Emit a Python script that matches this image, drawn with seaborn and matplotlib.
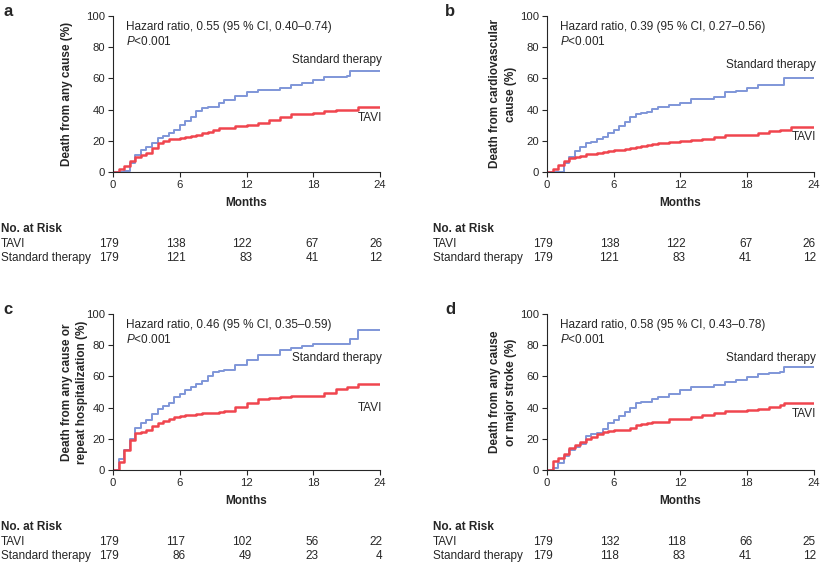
#!/usr/bin/env python3
"""Kaplan-Meier style curves, TAVI vs standard therapy, four endpoints"""

import matplotlib
matplotlib.use('Agg')
import matplotlib.pyplot as plt
import matplotlib.transforms as mtransforms
import pandas as pd
import seaborn as sns

# --------------------------------------------------
# data (cumulative event rate, %)
months = [0, 0.5, 1, 1.5, 2, 2.5, 3, 3.5, 4, 4.5, 5, 5.5, 6, 6.5, 7, 7.5,
          8, 8.5, 9, 9.5, 10, 11, 12, 13, 14, 15, 16, 17, 18, 19, 20, 21,
          21.3, 22, 23, 24]

a_std = [0, 0, 1, 6, 11, 14, 16, 19, 22, 23, 25, 27, 30, 33, 35.5, 39,
         41, 41.5, 42, 44, 46, 49, 51, 52.5, 52.5, 54, 56, 57, 59, 61, 61,
         61.5, 65, 65, 65, 65]
a_tavi = [0, 2, 4, 7, 10, 11, 12.5, 15.5, 18.5, 20, 21, 21.5, 22, 22.5, 23,
          24, 25, 26, 27, 28, 28.5, 29.5, 30, 31.7, 33.4, 35.5, 37, 37, 38,
          39, 40, 40, 40, 42, 42, 42]

b_std = [0, 0, 0.5, 5.7, 10, 13.5, 16.4, 18.5, 19.6, 21, 22.8, 25, 27, 29.5,
         32, 35, 37, 38, 38.7, 40.5, 41.5, 43, 44.5, 47, 47, 48, 51, 52, 54,
         56, 56, 56, 60, 60, 60, 60]
b_tavi = [0, 2, 4.5, 7, 9, 9.5, 10.4, 11.5, 12, 12.5, 13, 13.5, 14, 14.3,
          14.7, 15.5, 16.4, 17, 17.5, 18, 18.5, 19.6, 20, 20.6, 21.5, 22.8,
          24, 24, 24, 25, 26.4, 27, 27, 29, 29, 29]

c_std = [0, 7, 12.8, 20, 26.7, 30, 32, 36, 39, 41, 42.7, 47, 49, 51, 53.4,
         55, 57, 60, 63, 63.5, 64, 67, 70.5, 73.7, 74, 77, 78, 79.5, 80.8,
         80.8, 80.8, 81, 84, 89.7, 89.7, 89.7]
c_tavi = [0, 5, 13, 19, 23.5, 24.5, 25.6, 28, 30, 31.5, 33, 34, 34.6, 35,
          35.3, 36, 36.3, 36.3, 36.3, 37, 38, 40.6, 42.7, 45.3, 46, 47, 47.5,
          47.5, 47.5, 49.6, 52, 53.4, 53.4, 55, 55, 55]

d_std = [0, 1.5, 4.7, 9, 12.8, 15, 16.7, 22, 23, 24, 26, 30, 32, 34.5, 37.4,
         40, 42.7, 43.5, 43.8, 45.5, 47, 48.7, 51.3, 53, 53, 54.5, 56.6,
         57.7, 59.4, 61.5, 62, 63, 65.8, 65.8, 65.8, 65.8]
d_tavi = [0, 5.5, 7.5, 10, 13.9, 16, 18, 20, 21.4, 23, 24.6, 25.2, 25.6,
          25.6, 25.6, 27, 28.8, 29.5, 30, 30.5, 31, 32.5, 33, 34, 35.3, 36.3,
          38, 38, 38.5, 39.3, 40.6, 41.7, 43, 43, 43, 43]

risk_months = [0, 6, 12, 18, 24]
risk_tavi = {'a': [179, 138, 122, 67, 26], 'b': [179, 138, 122, 67, 26],
             'c': [179, 117, 102, 56, 22], 'd': [179, 132, 118, 66, 25]}
risk_std = {'a': [179, 121, 83, 41, 12], 'b': [179, 121, 83, 41, 12],
            'c': [179, 86, 49, 23, 4], 'd': [179, 118, 83, 41, 12]}

ylabels = {'a': 'Death from any cause (%)',
           'b': 'Death from cardiovascular\ncause (%)',
           'c': 'Death from any cause or\nrepeat hospitalization (%)',
           'd': 'Death from any cause\nor major stroke (%)'}
hazard = {'a': 'Hazard ratio, 0.55 (95 % CI, 0.40\u20130.74)',
          'b': 'Hazard ratio, 0.39 (95 % CI, 0.27\u20130.56)',
          'c': 'Hazard ratio, 0.46 (95 % CI, 0.35\u20130.59)',
          'd': 'Hazard ratio, 0.58 (95 % CI, 0.43\u20130.78)'}
curves = {'a': (a_std, a_tavi), 'b': (b_std, b_tavi),
          'c': (c_std, c_tavi), 'd': (d_std, d_tavi)}

# label heights (%) for the curve names
std_label_y = {'a': 71.7, 'b': 68.5, 'c': 72, 'd': 72}
tavi_label_y = {'a': 34.7, 'b': 22.5, 'c': 40, 'd': 35.9}

BLUE = '#7f96d8'
RED = '#f0454e'

# --------------------------------------------------
sns.set_theme(style='ticks')
plt.rcParams['font.family'] = ['Liberation Sans', 'DejaVu Sans']
plt.rcParams['mathtext.fontset'] = 'custom'
plt.rcParams['mathtext.rm'] = 'Liberation Sans'
plt.rcParams['mathtext.it'] = 'Liberation Sans:italic'

W, H = 823, 563
fig = plt.figure(figsize=(W / 100, H / 100), dpi=100)

# pixel layout: (axis left, axis right, axis top, axis bottom, text left)
layout = {'a': (113, 380, 15.7, 172.3, 1),
          'b': (547, 813.5, 15.7, 172.3, 433),
          'c': (113, 380, 314, 470, 1),
          'd': (547, 813.5, 314, 470, 433)}
label_x = {'a': -0.15, 'b': -0.113, 'c': -0.092, 'd': -0.113}

FS = 8.5
TICK_FS = 8.1

for key, (x0, x1, y0, y1, tx) in layout.items():
    ax = fig.add_axes([x0 / W, 1 - y1 / H, (x1 - x0) / W, (y1 - y0) / H])
    std, tavi = curves[key]
    df = pd.DataFrame({'months': months, 'std': std, 'tavi': tavi})

    sns.lineplot(data=df, x='months', y='std', color=BLUE, lw=1.4,
                 drawstyle='steps-post', ax=ax)
    sns.lineplot(data=df, x='months', y='tavi', color=RED, lw=1.8,
                 drawstyle='steps-post', ax=ax)

    ax.set_xlim(0, 24)
    ax.set_ylim(0, 100)
    ax.set_xticks(risk_months)
    ax.set_yticks(range(0, 101, 20))
    ax.tick_params(labelsize=TICK_FS, length=3.5, width=0.8, pad=2)
    for s in ('left', 'bottom'):
        ax.spines[s].set_linewidth(0.8)
    sns.despine(ax=ax)

    ax.set_xlabel('Months', fontsize=FS, fontweight='bold', labelpad=5)
    ax.set_ylabel(ylabels[key], fontsize=FS, fontweight='bold',
                  linespacing=1.4)
    ax.yaxis.set_label_coords(label_x[key], 0.5)

    ax.text(1.2, 93, hazard[key], fontsize=FS, va='center')
    ax.text(1.2, 83.5, '$\\it{P}$<0.001', fontsize=FS, va='center')
    ax.text(24.2, std_label_y[key], 'Standard therapy', fontsize=FS,
            ha='right', va='center')
    ax.text(24.2, tavi_label_y[key], 'TAVI', fontsize=FS,
            ha='right', va='center')

    # panel letter
    fig.text((tx + 2 + (10 if key in 'bd' else 0)) / W, 1 - (y0 - 4) / H,
             key, fontsize=12, fontweight='bold', ha='left', va='center')

    # number-at-risk table
    base = y1 + 57
    trans = mtransforms.blended_transform_factory(ax.transData,
                                                  fig.transFigure)
    fig.text(tx / W, 1 - base / H, 'No. at Risk', fontsize=FS,
             fontweight='bold', va='center')
    fig.text(tx / W, 1 - (base + 15) / H, 'TAVI', fontsize=FS, va='center')
    fig.text(tx / W, 1 - (base + 29) / H, 'Standard therapy', fontsize=FS,
             va='center')
    for m, nt, ns in zip(risk_months, risk_tavi[key], risk_std[key]):
        xr = m + (0.5 if m < 24 else 0.2)
        ax.text(xr, 1 - (base + 15) / H, str(nt), fontsize=FS,
                ha='right', va='center', transform=trans)
        ax.text(xr, 1 - (base + 29) / H, str(ns), fontsize=FS,
                ha='right', va='center', transform=trans)

fig.savefig('out.png', dpi=100, facecolor='white')
